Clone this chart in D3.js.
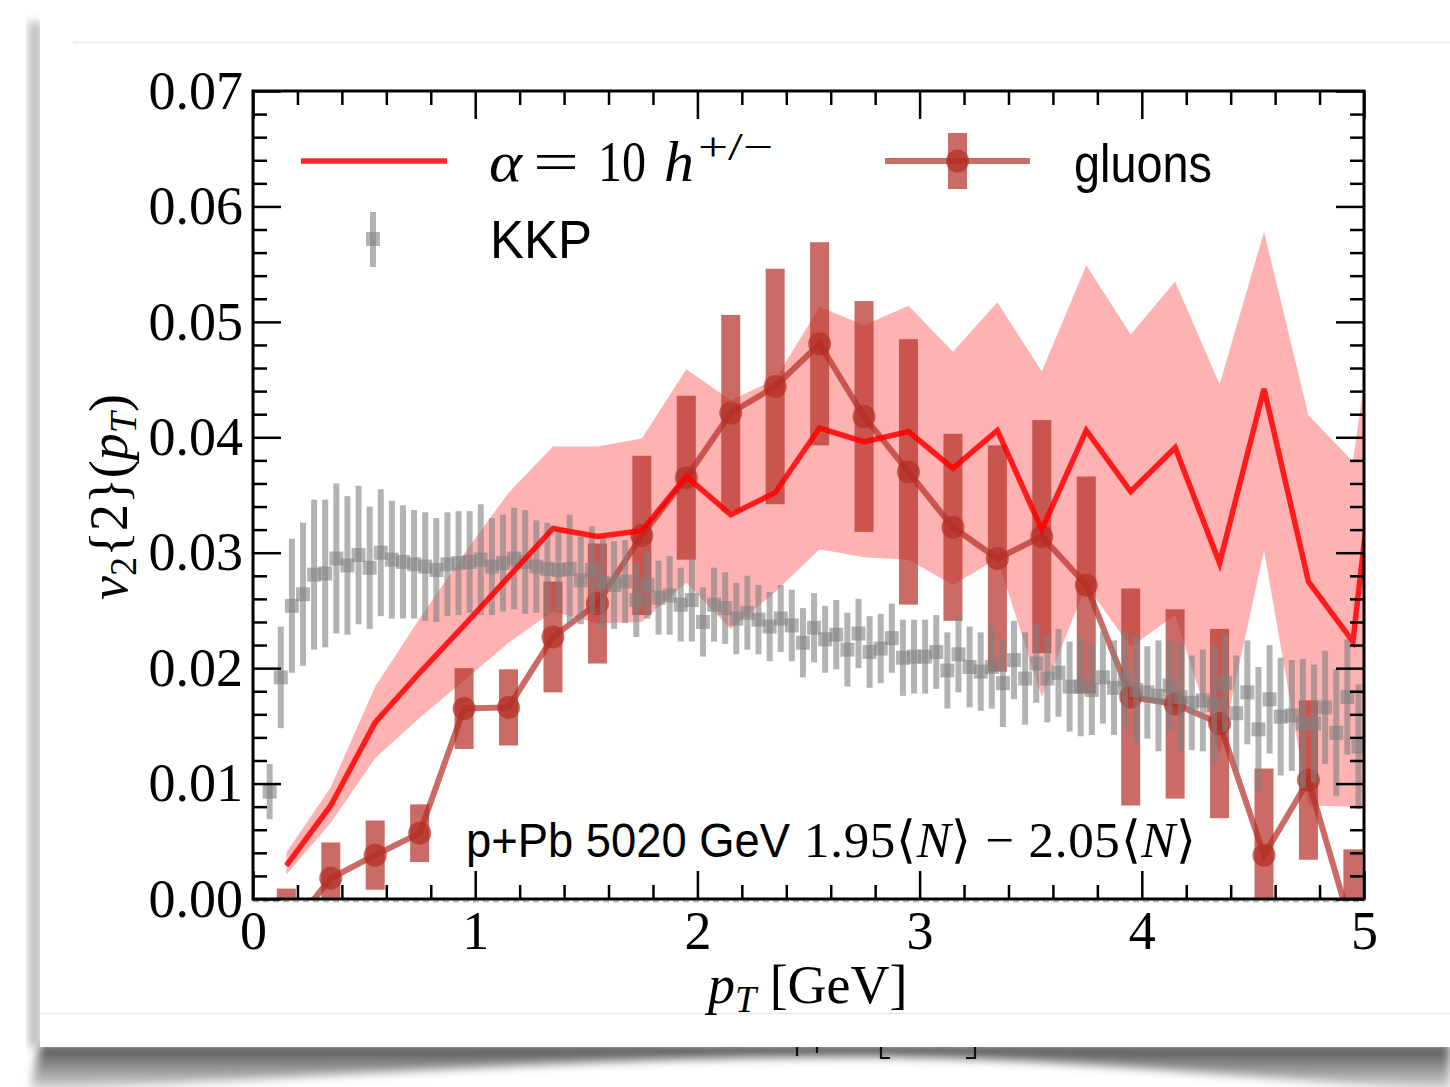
<!DOCTYPE html>
<html>
<head>
<meta charset="utf-8">
<script src="https://cdn.jsdelivr.net/npm/d3@7"></script>
<style>
  body { margin: 0; background: #fff; }
  svg { display: block; }
  .tick line { stroke: #000; stroke-width: 2.5; }
  .tick text { font-family: 'Liberation Serif', serif; font-size: 54px; fill: #000; }
</style>
</head>
<body>
<svg id="chart"></svg>
<script>
// ---- data ----
const xTicks = [0, 1, 2, 3, 4, 5]
const yTicks = [0, 0.01, 0.02, 0.03, 0.04, 0.05, 0.06, 0.07]

// alpha = 10 h+/- (line + band), last point lies past the frame
const modelPt = [0.15, 0.35, 0.55, 0.75, 0.95, 1.15, 1.35, 1.55, 1.75, 1.95, 2.15, 2.35, 2.55,
  2.75, 2.95, 3.15, 3.35, 3.55, 3.75, 3.95, 4.15, 4.35, 4.55, 4.75, 4.95, 5.15]
const modelV = [0.0029, 0.0081, 0.0153, 0.0196, 0.0237, 0.0279, 0.0321, 0.0314, 0.0319, 0.0366,
  0.0333, 0.0352, 0.0408, 0.0396, 0.0405, 0.0373, 0.0406, 0.0320, 0.0406, 0.0353, 0.0391,
  0.0291, 0.0442, 0.0275, 0.0223, 0.0560]
const modelHi = [0.0040, 0.0097, 0.0184, 0.0243, 0.0299, 0.0352, 0.0392, 0.0392, 0.0399, 0.0459,
  0.0432, 0.0450, 0.0513, 0.0497, 0.0514, 0.0474, 0.0517, 0.0457, 0.0549, 0.0489, 0.0535,
  0.0446, 0.0578, 0.0419, 0.0379, 0.0650]
const modelLo = [0.0021, 0.0066, 0.0122, 0.0157, 0.0189, 0.0222, 0.0249, 0.0239, 0.0240, 0.0274,
  0.0234, 0.0266, 0.0303, 0.0296, 0.0294, 0.0272, 0.0295, 0.0175, 0.0272, 0.0218, 0.0246,
  0.0125, 0.0302, 0.0081, 0.0080, 0.0080]

// gluons
const gluonPt = [0.15, 0.35, 0.55, 0.75, 0.95, 1.15, 1.35, 1.55, 1.75, 1.95, 2.15, 2.35, 2.55,
  2.75, 2.95, 3.15, 3.35, 3.55, 3.75, 3.95, 4.15, 4.35, 4.55, 4.75, 4.95]
const gluonV = [-0.0030, 0.0018, 0.0038, 0.0057, 0.0165, 0.0166, 0.0227, 0.0256, 0.0315, 0.0365,
  0.0421, 0.0444, 0.0481, 0.0418, 0.0370, 0.0322, 0.0295, 0.0314, 0.0272, 0.0175, 0.0169,
  0.0152, 0.0038, 0.0103, -0.0029]
const gluonErr = [0.0039, 0.0031, 0.0030, 0.0025, 0.0035, 0.0033, 0.0048, 0.0052, 0.0069, 0.0071,
  0.0085, 0.0102, 0.0088, 0.0100, 0.0115, 0.0081, 0.0098, 0.0101, 0.0094, 0.0094, 0.0082,
  0.0082, 0.0075, 0.0069, 0.0072]

// KKP
const kkpPt = [0.075, 0.125, 0.175, 0.225, 0.275, 0.325, 0.375, 0.425, 0.475, 0.525, 0.575, 0.625,
  0.675, 0.725, 0.775, 0.825, 0.875, 0.925, 0.975, 1.025, 1.075, 1.125, 1.175, 1.225, 1.275,
  1.325, 1.375, 1.425, 1.475, 1.525, 1.575, 1.625, 1.675, 1.725, 1.775, 1.825, 1.875, 1.925,
  1.975, 2.025, 2.075, 2.125, 2.175, 2.225, 2.275, 2.325, 2.375, 2.425, 2.475, 2.525, 2.575,
  2.625, 2.675, 2.725, 2.775, 2.825, 2.875, 2.925, 2.975, 3.025, 3.075, 3.125, 3.175, 3.225,
  3.275, 3.325, 3.375, 3.425, 3.475, 3.525, 3.575, 3.625, 3.675, 3.725, 3.775, 3.825, 3.875,
  3.925, 3.975, 4.025, 4.075, 4.125, 4.175, 4.225, 4.275, 4.325, 4.375, 4.425, 4.475, 4.525,
  4.575, 4.625, 4.675, 4.725, 4.775, 4.825, 4.875, 4.925, 4.975]
const kkpV = [0.0093, 0.0192, 0.0254, 0.0264, 0.0281, 0.0282, 0.0295, 0.0289, 0.0298, 0.0287,
  0.0300, 0.0294, 0.0292, 0.0290, 0.0288, 0.0285, 0.0290, 0.0291, 0.0292, 0.0294, 0.0288,
  0.0291, 0.0295, 0.0292, 0.0288, 0.0286, 0.0285, 0.0286, 0.0276, 0.0285, 0.0274, 0.0272,
  0.0275, 0.0259, 0.0272, 0.0261, 0.0263, 0.0255, 0.0259, 0.0240, 0.0255, 0.0252, 0.0243,
  0.0248, 0.0242, 0.0236, 0.0243, 0.0237, 0.0222, 0.0235, 0.0225, 0.0229, 0.0216, 0.0230,
  0.0214, 0.0217, 0.0226, 0.0209, 0.0210, 0.0210, 0.0214, 0.0198, 0.0212, 0.0201, 0.0197,
  0.0201, 0.0187, 0.0207, 0.0191, 0.0204, 0.0191, 0.0196, 0.0184, 0.0184, 0.0181, 0.0192,
  0.0183, 0.0190, 0.0181, 0.0179, 0.0176, 0.0185, 0.0175, 0.0170, 0.0172, 0.0168, 0.0187,
  0.0161, 0.0179, 0.0147, 0.0173, 0.0158, 0.0159, 0.0152, 0.0152, 0.0166, 0.0144, 0.0175,
  0.0132]
const kkpErr = [0.0024, 0.0044, 0.0058, 0.0062, 0.0065, 0.0064, 0.0065, 0.0060, 0.0060, 0.0053,
  0.0055, 0.0051, 0.0049, 0.0047, 0.0047, 0.0045, 0.0045, 0.0045, 0.0044, 0.0048, 0.0042,
  0.0042, 0.0044, 0.0045, 0.0040, 0.0040, 0.0036, 0.0047, 0.0038, 0.0038, 0.0040, 0.0038,
  0.0036, 0.0032, 0.0029, 0.0032, 0.0034, 0.0032, 0.0036, 0.0030, 0.0032, 0.0031, 0.0031,
  0.0032, 0.0030, 0.0030, 0.0029, 0.0031, 0.0030, 0.0030, 0.0029, 0.0030, 0.0032, 0.0030,
  0.0031, 0.0030, 0.0030, 0.0033, 0.0032, 0.0032, 0.0032, 0.0033, 0.0033, 0.0035, 0.0034,
  0.0036, 0.0038, 0.0034, 0.0040, 0.0034, 0.0038, 0.0038, 0.0039, 0.0043, 0.0039, 0.0040,
  0.0041, 0.0042, 0.0047, 0.0040, 0.0048, 0.0039, 0.0047, 0.0041, 0.0044, 0.0051, 0.0042,
  0.0050, 0.0045, 0.0054, 0.0047, 0.0051, 0.0048, 0.0056, 0.0051, 0.0049, 0.0055, 0.0050,
  0.0054]

// ---- layout ----
const W = 1450, H = 1087
const L = 253, R = 1364, T = 91, B = 899
const redC = '#ff0000'
const gluC = 'rgb(180,45,35)'
const kkpC = '#808080'
const serif = "'Liberation Serif', serif"
const sans = "'Liberation Sans', sans-serif"

const svg = d3.select('#chart').attr('width', W).attr('height', H)

const defs = svg.append('defs')
defs.append('filter').attr('id', 'blur').attr('x', '-20%').attr('y', '-50%')
  .attr('width', '140%').attr('height', '200%')
  .append('feGaussianBlur').attr('stdDeviation', 5)
const sg = defs.append('linearGradient').attr('id', 'shadowGrad')
  .attr('x1', 0).attr('y1', 0).attr('x2', 0).attr('y2', 1)
sg.append('stop').attr('offset', '0%').attr('stop-color', '#4a4a4a')
sg.append('stop').attr('offset', '100%').attr('stop-color', '#d8d8d8')
defs.append('clipPath').attr('id', 'plotClip')
  .append('rect').attr('x', L).attr('y', T).attr('width', R - L).attr('height', B - T)

// ---- page background with shadow ----
svg.append('rect').attr('width', W).attr('height', H).attr('fill', '#fff')
svg.append('path')
  .attr('d', 'M40,1044 L1450,1044 L1450,1090 C1300,1084 1100,1060 900,1057 C600,1054 300,1080 30,1090 Z')
  .attr('fill', 'url(#shadowGrad)').attr('filter', 'url(#blur)')
svg.append('rect').attr('x', 29).attr('y', 22).attr('width', 12).attr('height', 1025)
  .attr('fill', '#b8b8b8').attr('filter', 'url(#blur)')
svg.append('rect').attr('x', 40).attr('y', 10).attr('width', W - 40).attr('height', 1037).attr('fill', '#fff')
svg.append('line').attr('x1', 73).attr('x2', W).attr('y1', 42.5).attr('y2', 42.5)
  .attr('stroke', '#e8e8e8').attr('stroke-width', 1.5)
svg.append('line').attr('x1', 40).attr('x2', W).attr('y1', 1013.5).attr('y2', 1013.5)
  .attr('stroke', '#e8e8e8').attr('stroke-width', 1.5)

// feet of a second label hidden behind the sheet
svg.append('path')
  .attr('d', 'M797,1047 V1056 M817,1047 V1053 M881,1047 V1058 H890 M975,1047 V1058 H966')
  .attr('fill', 'none').attr('stroke', '#111').attr('stroke-width', 2.2)

// ---- scales ----
const x = d3.scaleLinear().domain([0, 5]).range([L, R])
const y = d3.scaleLinear().domain([0, 0.07]).range([B, T])

const plot = svg.append('g').attr('clip-path', 'url(#plotClip)')

// band
const band = modelPt.map((p, i) => ({ p, lo: modelLo[i], hi: modelHi[i] }))
plot.append('path').datum(band)
  .attr('d', d3.area().x(d => x(d.p)).y0(d => y(d.lo)).y1(d => y(d.hi)))
  .attr('fill', redC).attr('fill-opacity', 0.3)

// gluons
const glu = gluonPt.map((p, i) => ({ p, v: gluonV[i], e: gluonErr[i] }))
plot.append('g').selectAll('rect').data(glu).enter().append('rect')
  .attr('x', d => x(d.p) - 9.5).attr('width', 19)
  .attr('y', d => y(d.v + d.e)).attr('height', d => y(d.v - d.e) - y(d.v + d.e))
  .attr('fill', gluC).attr('fill-opacity', 0.7)
plot.append('path').datum(glu)
  .attr('d', d3.line().x(d => x(d.p)).y(d => y(d.v)))
  .attr('fill', 'none').attr('stroke', gluC).attr('stroke-opacity', 0.7).attr('stroke-width', 6)
plot.append('g').selectAll('circle').data(glu).enter().append('circle')
  .attr('cx', d => x(d.p)).attr('cy', d => y(d.v)).attr('r', 11.5)
  .attr('fill', gluC).attr('fill-opacity', 0.7)

// KKP
const kkp = kkpPt.map((p, i) => ({ p, v: kkpV[i], e: kkpErr[i] }))
plot.append('g').selectAll('rect').data(kkp).enter().append('rect')
  .attr('x', d => x(d.p) - 3).attr('width', 6)
  .attr('y', d => y(d.v + d.e)).attr('height', d => y(d.v - d.e) - y(d.v + d.e))
  .attr('fill', kkpC).attr('fill-opacity', 0.6)
plot.append('g').selectAll('rect').data(kkp).enter().append('rect')
  .attr('x', d => x(d.p) - 7).attr('width', 14)
  .attr('y', d => y(d.v) - 7).attr('height', 14)
  .attr('fill', kkpC).attr('fill-opacity', 0.6)

// model line
plot.append('path').datum(modelPt.map((p, i) => ({ p, v: modelV[i] })))
  .attr('d', d3.line().x(d => x(d.p)).y(d => y(d.v)))
  .attr('fill', 'none').attr('stroke', redC).attr('stroke-opacity', 0.85)
  .attr('stroke-width', 5.5).attr('stroke-linejoin', 'miter')

// dashed zero line
svg.append('line').attr('x1', L).attr('x2', R).attr('y1', y(0) + 2.5).attr('y2', y(0) + 2.5)
  .attr('stroke', '#b0b0b0').attr('stroke-width', 1.5).attr('stroke-dasharray', '6,4')

// ---- axes ----
const xMinor = d3.range(0, 5.001, 0.2).filter(v => Math.abs(v - Math.round(v)) > 1e-6)
const yMinor = d3.range(0, 0.0701, 0.002).filter(v => Math.abs(v * 100 - Math.round(v * 100)) > 1e-6)

const ax = (gen, tx, ty) => {
  const g = svg.append('g').attr('transform', `translate(${tx},${ty})`).call(gen)
  g.select('.domain').remove()
  return g
}
ax(d3.axisBottom(x).tickValues(xTicks).tickSize(-28).tickPadding(12).tickFormat(d3.format('d')), 0, B)
ax(d3.axisBottom(x).tickValues(xMinor).tickSize(-14).tickFormat(''), 0, B)
ax(d3.axisTop(x).tickValues(xTicks).tickSize(-28).tickFormat(''), 0, T)
ax(d3.axisTop(x).tickValues(xMinor).tickSize(-14).tickFormat(''), 0, T)
ax(d3.axisLeft(y).tickValues(yTicks).tickSize(-28).tickPadding(10).tickFormat(d3.format('.2f')), L, 0)
ax(d3.axisLeft(y).tickValues(yMinor).tickSize(-14).tickFormat(''), L, 0)
ax(d3.axisRight(y).tickValues(yTicks).tickSize(-28).tickFormat(''), R, 0)
ax(d3.axisRight(y).tickValues(yMinor).tickSize(-14).tickFormat(''), R, 0)

svg.append('rect').attr('x', L).attr('y', T).attr('width', R - L).attr('height', B - T)
  .attr('fill', 'none').attr('stroke', '#000').attr('stroke-width', 3)

// ---- axis titles ----
const xl = svg.append('text').attr('x', 708).attr('y', 1003)
  .attr('font-family', serif).attr('font-size', 54)
xl.append('tspan').attr('font-style', 'italic').text('p')
xl.append('tspan').attr('font-style', 'italic').attr('font-size', 38).attr('dy', 9).text('T')
xl.append('tspan').attr('dy', -9).text(' [GeV]')

const yl = svg.append('text').attr('transform', 'translate(127,497) rotate(-90)')
  .attr('text-anchor', 'middle').attr('font-family', serif).attr('font-size', 54)
yl.append('tspan').attr('font-style', 'italic').text('v')
yl.append('tspan').attr('font-size', 38).attr('dy', 9).text('2')
yl.append('tspan').attr('dy', -9).text('{2}(')
yl.append('tspan').attr('font-style', 'italic').text('p')
yl.append('tspan').attr('font-style', 'italic').attr('font-size', 38).attr('dy', 9).text('T')
yl.append('tspan').attr('dy', -9).text(')')

// ---- legend ----
const lg = svg.append('g')
lg.append('line').attr('x1', 301).attr('x2', 447).attr('y1', 161).attr('y2', 161)
  .attr('stroke', redC).attr('stroke-opacity', 0.85).attr('stroke-width', 5.5)
const mathBit = (tx, ty, s, size, italic, len) => {
  const t = lg.append('text').attr('x', tx).attr('y', ty).attr('font-family', serif)
    .attr('font-size', size).attr('font-style', italic ? 'italic' : 'normal').text(s)
  if (len) t.attr('textLength', len).attr('lengthAdjust', 'spacingAndGlyphs')
}
mathBit(489, 181, 'α', 58, true, 33)
mathBit(533, 181, '=', 58, false, 46)
mathBit(598, 181, '10', 56, false, 48)
mathBit(664, 181, 'h', 58, true, 30)
mathBit(698, 160, '+/−', 40, false, 75)

lg.append('rect').attr('x', 370).attr('y', 212).attr('width', 6).attr('height', 55)
  .attr('fill', kkpC).attr('fill-opacity', 0.6)
lg.append('rect').attr('x', 366).attr('y', 232).attr('width', 14).attr('height', 14)
  .attr('fill', kkpC).attr('fill-opacity', 0.6)
lg.append('text').attr('x', 490).attr('y', 258).attr('font-family', sans).attr('font-size', 53)
  .attr('textLength', 102).attr('lengthAdjust', 'spacingAndGlyphs').text('KKP')

lg.append('line').attr('x1', 885).attr('x2', 1030).attr('y1', 161).attr('y2', 161)
  .attr('stroke', gluC).attr('stroke-opacity', 0.7).attr('stroke-width', 6)
lg.append('rect').attr('x', 948).attr('y', 133).attr('width', 19).attr('height', 56)
  .attr('fill', gluC).attr('fill-opacity', 0.7)
lg.append('circle').attr('cx', 957.5).attr('cy', 161).attr('r', 11.5)
  .attr('fill', gluC).attr('fill-opacity', 0.7)
lg.append('text').attr('x', 1074).attr('y', 182).attr('font-family', sans).attr('font-size', 54)
  .attr('textLength', 138).attr('lengthAdjust', 'spacingAndGlyphs').text('gluons')

// ---- annotation ----
svg.append('text').attr('x', 466).attr('y', 857).attr('font-family', sans).attr('font-size', 48)
  .attr('textLength', 324).attr('lengthAdjust', 'spacingAndGlyphs').text('p+Pb 5020 GeV')
const an = svg.append('text').attr('x', 804).attr('y', 857)
  .attr('font-family', serif).attr('font-size', 51)
  .attr('textLength', 392).attr('lengthAdjust', 'spacing')
an.append('tspan').text('1.95⟨')
an.append('tspan').attr('font-style', 'italic').text('N')
an.append('tspan').text('⟩ − 2.05⟨')
an.append('tspan').attr('font-style', 'italic').text('N')
an.append('tspan').text('⟩')
</script>
</body>
</html>
